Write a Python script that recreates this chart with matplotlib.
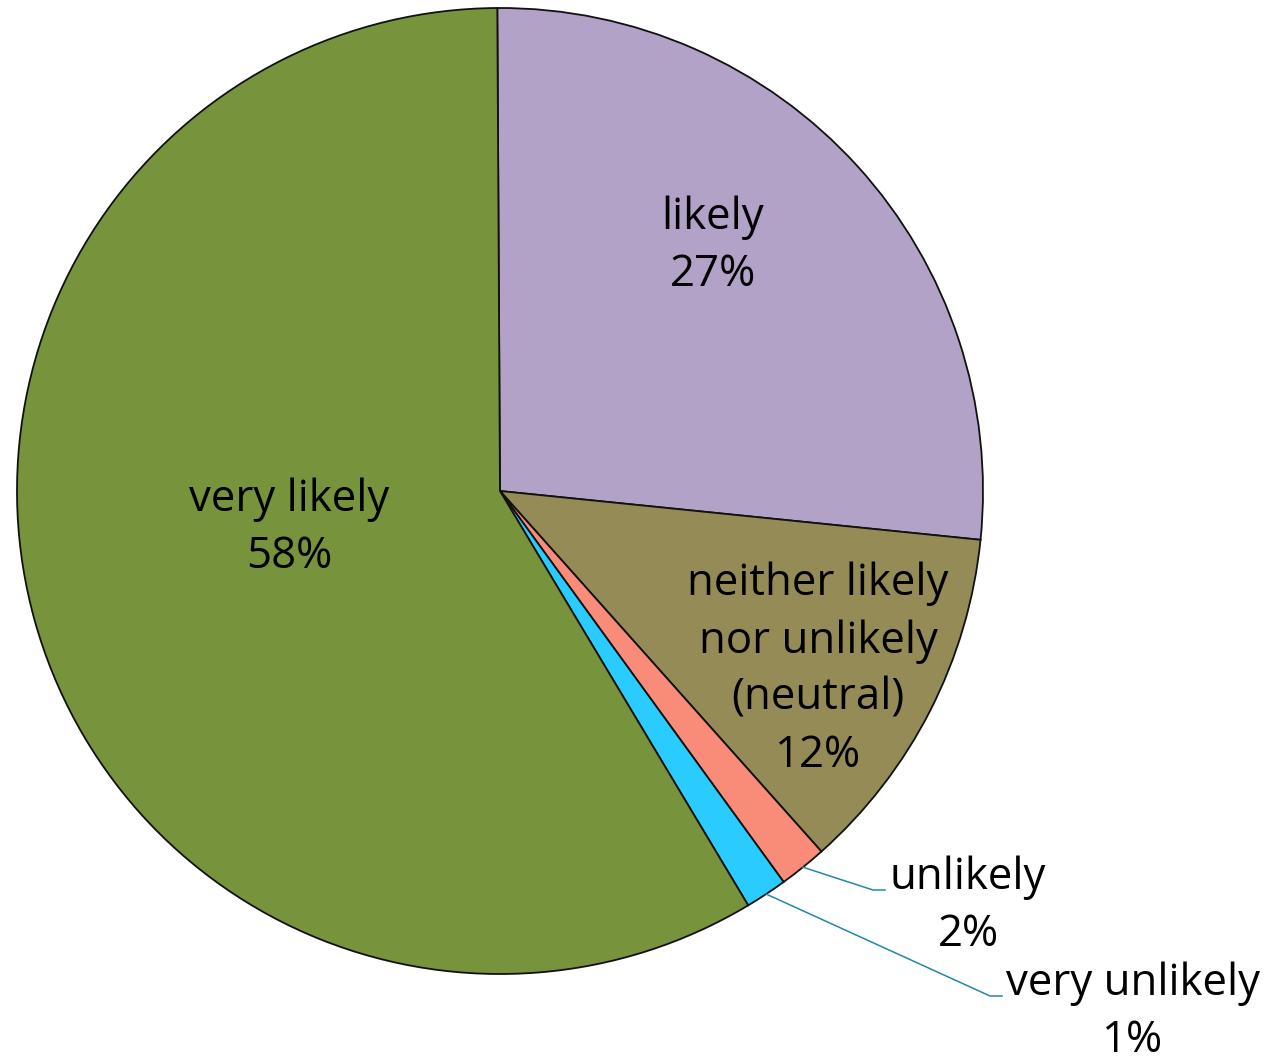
import numpy as np
import matplotlib
matplotlib.use("Agg")
import matplotlib.pyplot as plt

plt.rcParams['font.family'] = ['Open Sans', 'DejaVu Sans']

# Survey answers, clockwise from the top
categories = ["likely", "neither likely\nnor unlikely\n(neutral)", "unlikely",
              "very unlikely", "very likely"]
shares = [26.7, 11.8, 1.6, 1.4, 58.5]
colors = ["#B3A2C8", "#958B56", "#F98C78", "#2ACCFF", "#77933C"]

W, H = 1274, 1059
fig = plt.figure(figsize=(W / 100, H / 100), dpi=100)
ax = fig.add_axes([0, 0, 1, 1])

cx, cy, R = 500, 491, 483
wedges, _ = ax.pie(shares, colors=colors, startangle=-90.32, counterclock=True,
                   center=(cx, cy), radius=R, frame=True,
                   wedgeprops=dict(edgecolor="#111111", linewidth=1.3))
ax.set_xlim(0, W)
ax.set_ylim(H, 0)
ax.set_aspect('equal')
ax.axis('off')

fs = 31.5
def label(i, x, y):
    ax.text(x, y, f"{categories[i]}\n{shares[i]:.0f}%", ha='center', va='center',
            fontsize=fs, linespacing=1.38, color='black')

label(0, 713, 246)
label(4, 289, 528)
label(1, 818, 670)
label(2, 968, 906)
label(3, 1133, 1012)

# leader lines for the two thin slices
lead_col = "#2487A8"
for i, (bx, by, ex) in [(2, (873, 890, 885)), (3, (990, 996, 1002))]:
    w = wedges[i]
    mid = np.deg2rad((w.theta1 + w.theta2) / 2)
    px, py = cx + R * np.cos(mid), cy + R * np.sin(mid)
    ax.plot([px, bx, ex], [py, by, by], color=lead_col, lw=1.1)

fig.savefig("out.png", dpi=100)
